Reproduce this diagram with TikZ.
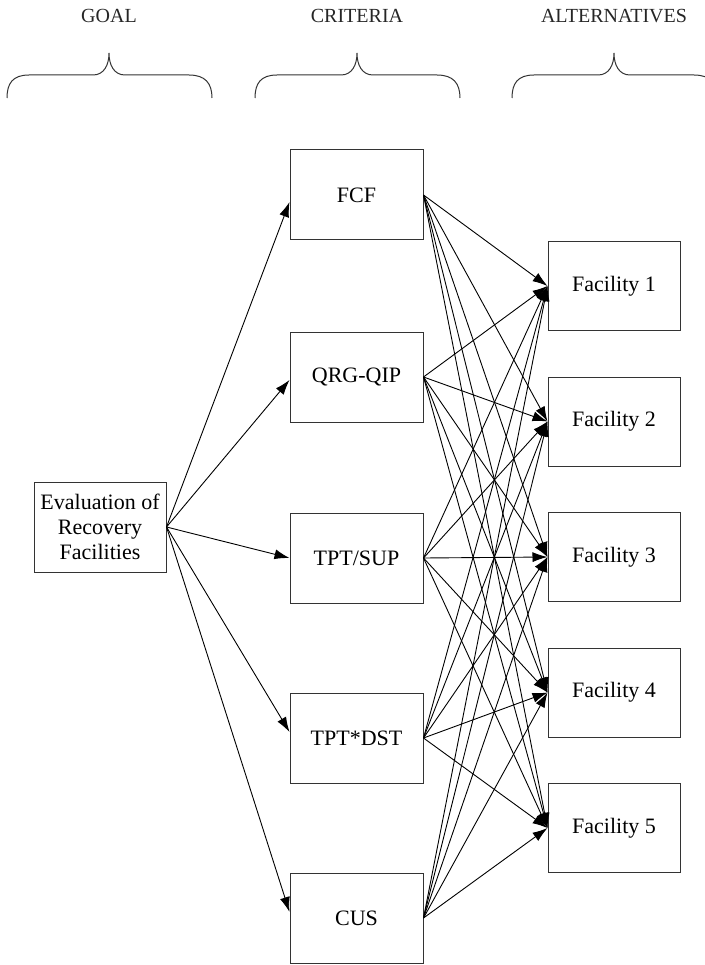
\documentclass[tikz,border=0pt]{standalone}
\usepackage{fontspec}
\setmainfont{Liberation Serif}
\usetikzlibrary{arrows.meta,calc}

\tikzset{
  box/.style={draw=black!80, line width=1pt, minimum width=133pt,
    minimum height=90pt, inner sep=0pt, align=center,
    font=\fontsize{22}{25}\selectfont},
  head/.style={font=\fontsize{20}{22}\selectfont, text=black!85},
  link/.style={line width=0.9pt, -{Latex[length=15pt,width=10pt]}},
  bracestroke/.style={line width=1pt, draw=black!80},
  % curly brace opening downwards, origin at its upper point
  level brace/.pic={
    \draw[bracestroke] (-102,45) .. controls (-102,30) and (-96,22) .. (-80,22)
      -- (-16,22) .. controls (-5,22) and (0,12) .. (0,0)
      .. controls (0,12) and (5,22) .. (16,22) -- (80,22)
      .. controls (96,22) and (103,30) .. (103,45);
  }
}

\begin{document}
\begin{tikzpicture}[x=1pt,y=-1pt]
\useasboundingbox (0,0) rectangle (704,965);

% level headings and their braces
\node[head] (hgoal) at (109,16) {GOAL};
\node[head] (hcrit) at (357,16) {CRITERIA};
\node[head] (halt)  at (614,16) {ALTERNATIVES};
\pic at (109,53) {level brace};
\pic at (357,53) {level brace};
\pic at (614,53) {level brace};

% goal
\node[box, minimum width=132pt] (goal) at (100,527) {Evaluation of\\Recovery\\Facilities};

% criteria
\node[box] (c1) at (356.5,195) {FCF};
\node[box] (c2) at (356.5,377) {QRG-QIP};
\node[box] (c3) at (356.5,558) {TPT/SUP};
\node[box] (c4) at (356.5,738) {TPT*DST};
\node[box] (c5) at (356.5,918) {CUS};

% alternatives
\node[box, minimum width=132pt, minimum height=89pt] (f1) at (614,286)   {Facility 1};
\node[box, minimum width=132pt, minimum height=89pt] (f2) at (614,421.5) {Facility 2};
\node[box, minimum width=132pt, minimum height=89pt] (f3) at (614,557)   {Facility 3};
\node[box, minimum width=132pt, minimum height=89pt] (f4) at (614,692.5) {Facility 4};
\node[box, minimum width=132pt, minimum height=89pt] (f5) at (614,828)   {Facility 5};

% goal to criteria
\draw[link] (goal.east) -- ($(c1.west)+(0,7)$);
\draw[link] (goal.east) -- ($(c2.west)+(0,3)$);
\draw[link] (goal.east) -- (c3.west);
\draw[link] (goal.east) -- ($(c4.west)+(0,-6)$);
\draw[link] (goal.east) -- ($(c5.west)+(0,-6)$);

% every criterion to every alternative
\foreach \c in {1,...,5}
  \foreach \f in {1,...,5}
    \draw[link] (c\c.east) -- (f\f.west);
\end{tikzpicture}
\end{document}
